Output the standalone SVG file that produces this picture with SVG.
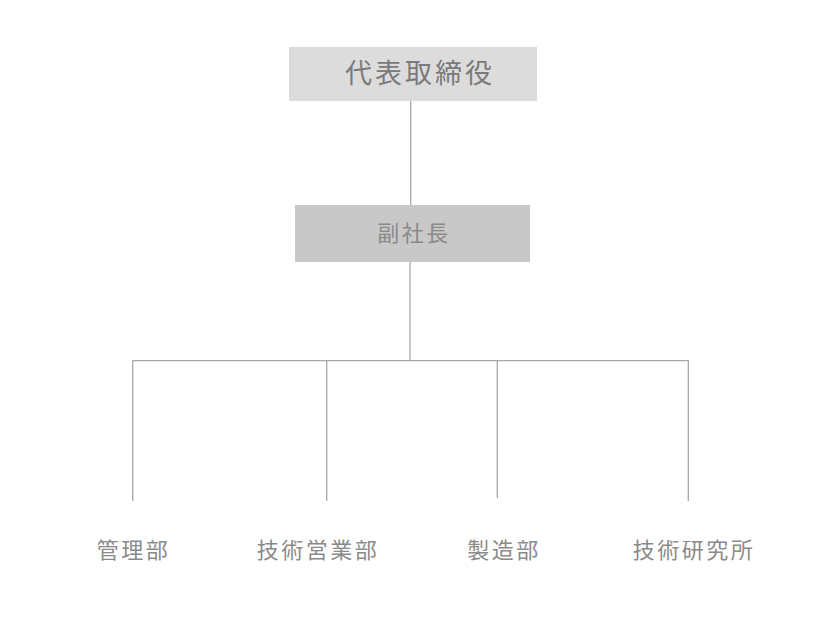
<svg xmlns="http://www.w3.org/2000/svg" width="832" height="638" viewBox="0 0 832 638">
<style>
text{font-family:"Noto Sans CJK JP","Noto Sans CJK SC",sans-serif;text-anchor:middle;}
.lbl{font-size:22px;fill:#8a8a8a;letter-spacing:2.5px;}
.ln{stroke:#a6a6a6;stroke-width:1.3;fill:none;}
</style>
<rect width="832" height="638" fill="#ffffff"/>
<g id="connectors">
<line class="ln" x1="410.7" y1="101" x2="410.7" y2="205"/>
<line class="ln" x1="410" y1="262" x2="410" y2="361"/>
<line class="ln" x1="132.7" y1="360.7" x2="689" y2="360.7"/>
<line class="ln" x1="132.7" y1="360.7" x2="132.7" y2="501"/>
<line class="ln" x1="326.7" y1="360.7" x2="326.7" y2="501"/>
<line class="ln" x1="497.3" y1="360.7" x2="497.3" y2="498"/>
<line class="ln" x1="688.3" y1="360.7" x2="688.3" y2="501"/>
</g>
<g id="ceo">
<rect x="289" y="47" width="248" height="54" fill="#dcdcdc"/>
<text x="420" y="83" style="font-size:27px;fill:#7a7a7a;letter-spacing:3px">代表取締役</text>
</g>
<g id="vp">
<rect x="295" y="205" width="235" height="57" fill="#c8c8c8"/>
<text x="414" y="241" class="lbl">副社長</text>
</g>
<g id="kanri"><text x="133.5" y="558" class="lbl">管理部</text></g>
<g id="eigyo"><text x="318" y="558" class="lbl">技術営業部</text></g>
<g id="seizo"><text x="504" y="558" class="lbl">製造部</text></g>
<g id="kenkyu"><text x="694" y="558" class="lbl">技術研究所</text></g>
</svg>
